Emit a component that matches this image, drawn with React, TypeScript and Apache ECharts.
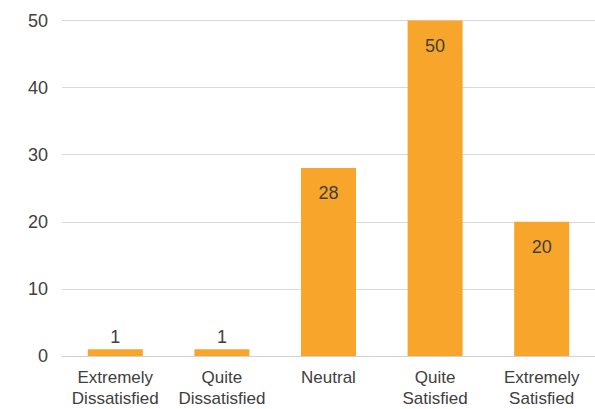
import React, { useEffect, useRef } from "react";
import * as echarts from "echarts";

const categories = [
  "Extremely\nDissatisfied",
  "Quite\nDissatisfied",
  "Neutral",
  "Quite\nSatisfied",
  "Extremely\nSatisfied",
];
const values = [1, 1, 28, 50, 20];
const yTicks = { min: 0, max: 50, interval: 10 };

export default function App() {
  const ref = useRef<HTMLDivElement>(null);
  useEffect(() => {
    if (!ref.current) return;
    const chart = echarts.init(ref.current, undefined, { renderer: "svg" });
    const font = "'Liberation Sans', Arial, sans-serif";
    chart.setOption({
      animation: false,
      grid: { left: 62, width: 536, top: 20.5, height: 336 },
      xAxis: {
        type: "category",
        data: categories,
        axisLine: { lineStyle: { color: "#d0d0d0", width: 1 } },
        axisTick: { show: false },
        axisLabel: {
          color: "#404040",
          fontSize: 17,
          fontFamily: font,
          lineHeight: 21,
          margin: 11,
          interval: 0,
        },
      },
      yAxis: {
        type: "value",
        min: yTicks.min,
        max: yTicks.max,
        interval: yTicks.interval,
        axisLine: { show: false },
        axisTick: { show: false },
        splitLine: { lineStyle: { color: "#d9d9d9", width: 1 } },
        axisLabel: { color: "#404040", fontSize: 18, fontFamily: font, margin: 14 },
      },
      series: [
        {
          type: "bar",
          barWidth: 55,
          itemStyle: { color: "#F7A52B" },
          data: values.map((v) => ({
            value: v,
            label: {
              show: true,
              position: v < 5 ? "top" : "insideTop",
              distance: v < 5 ? 3 : 16,
              color: "#404040",
              fontSize: 18,
              fontFamily: font,
            },
          })),
        },
      ],
    });
    return () => chart.dispose();
  }, []);
  return (
    <div
      ref={ref}
      style={{ position: "absolute", left: 0, top: 0, width: 595, height: 409 }}
    />
  );
}
